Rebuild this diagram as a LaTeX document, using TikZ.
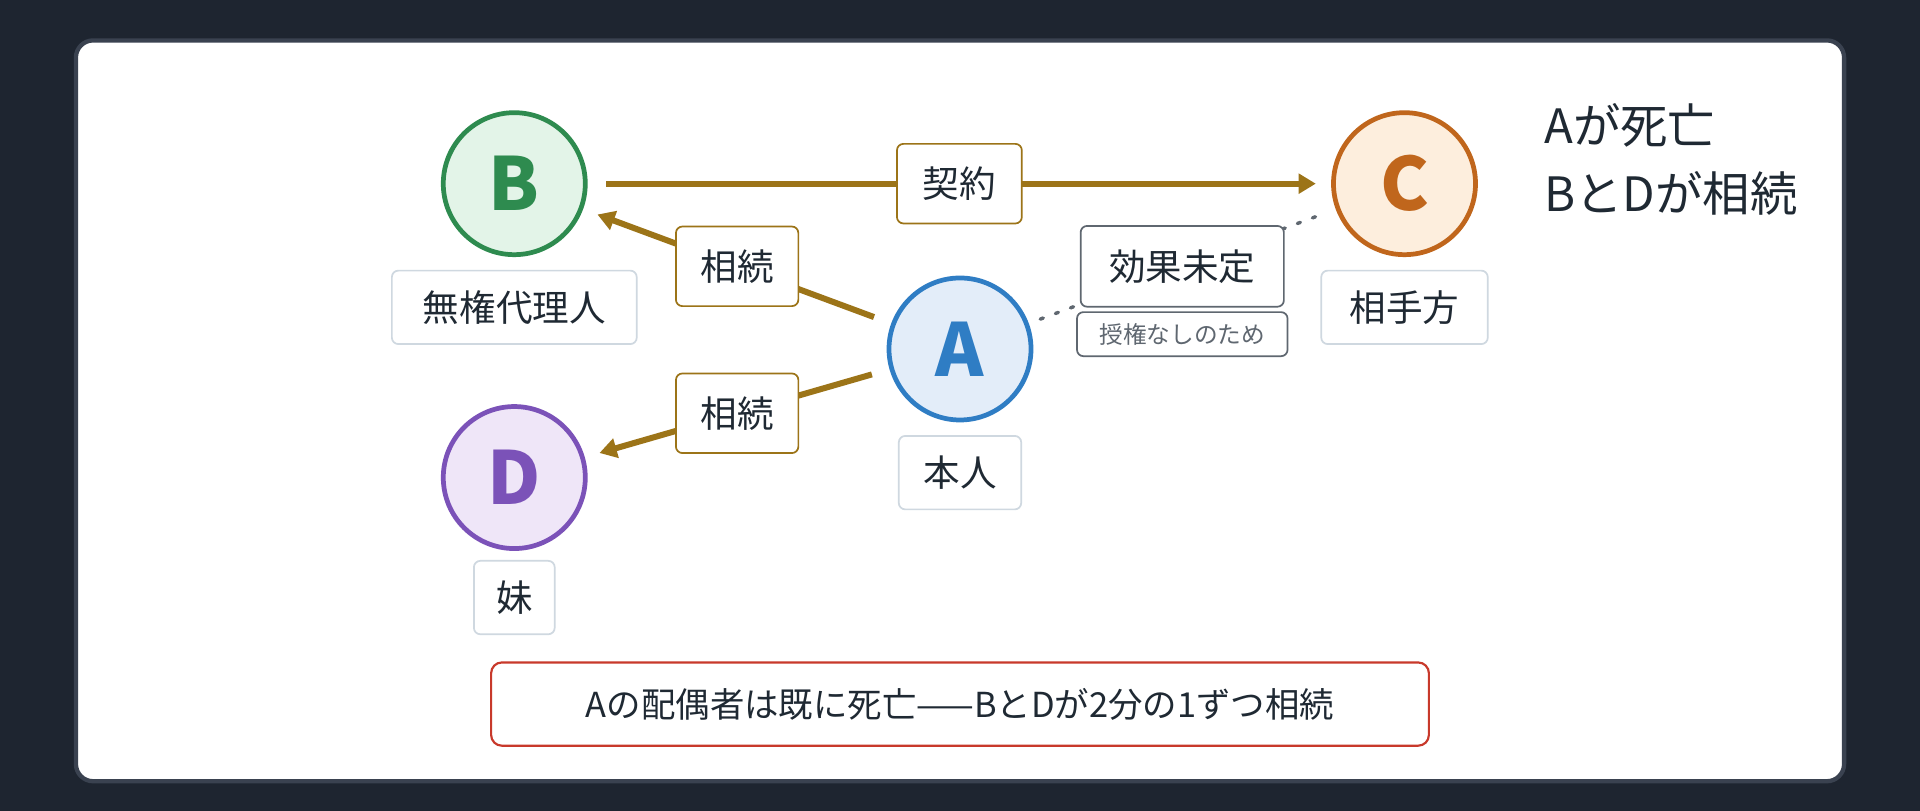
\documentclass[tikz,border=0pt]{standalone}
\usepackage{fontspec}
\setmainfont{Noto Sans CJK JP}
\usetikzlibrary{arrows.meta,positioning}
\definecolor{bgdark}{HTML}{1E2530}
\definecolor{cardline}{HTML}{3A4250}
\definecolor{inkc}{HTML}{1F2933}
\definecolor{brownc}{HTML}{9C7418}
\definecolor{greyline}{HTML}{CFD8E0}
\definecolor{greydark}{HTML}{5F6770}
\definecolor{redc}{HTML}{C8392B}
\definecolor{bline}{HTML}{2E8B4F}\definecolor{bfill}{HTML}{E3F4E8}
\definecolor{cline}{HTML}{C0661C}\definecolor{cfill}{HTML}{FDEEDD}
\definecolor{aline}{HTML}{2F7DC4}\definecolor{afill}{HTML}{E3EDF9}
\definecolor{dline}{HTML}{7B52B8}\definecolor{dfill}{HTML}{EFE6F8}
\tikzset{
  party/.style={circle, line width=2.2pt, minimum size=2.32cm, inner sep=0pt, font=\bfseries\fontsize{34}{34}\selectfont},
  tag/.style={draw=greyline, line width=0.8pt, rounded corners=3pt, fill=white, text=inkc, font=\fontsize{17}{20}\selectfont, inner sep=0pt, minimum height=1.2cm},
  rel/.style={draw=brownc, line width=0.8pt, rounded corners=3pt, fill=white, text=inkc, font=\fontsize{17}{20}\selectfont, minimum width=2.0cm, minimum height=1.3cm},
  flow/.style={brownc, line width=2.8pt, -{Triangle[length=8pt,width=9pt]}, shorten >=0.25cm, shorten <=0.3cm},
}
\begin{document}
\begin{tikzpicture}[x=0.02cm, y=-0.02cm]
  \fill[bgdark] (0,0) rectangle (1568,662);
  \filldraw[fill=white, draw=cardline, line width=2pt, rounded corners=8pt] (62,33) rectangle (1506,638);
  % parties
  \node[party, fill=bfill, draw=bline, text=bline] (B) at (420,150) {B};
  \node[party, fill=cfill, draw=cline, text=cline] (C) at (1147,150) {C};
  \node[party, fill=afill, draw=aline, text=aline] (A) at (784,285) {A};
  \node[party, fill=dfill, draw=dline, text=dline] (D) at (420,390) {D};
  % names
  \node[tag, minimum width=4.0cm] (Bname) at (420,251) {無権代理人};
  \node[tag, minimum width=2.72cm] (Cname) at (1147,251) {相手方};
  \node[tag, minimum width=2.0cm] (Aname) at (784,386) {本人};
  \node[tag, minimum width=1.32cm] (Dname) at (420,488) {妹};
  % relations
  \draw[flow] (B) -- node[rel, minimum width=2.04cm] (deal) {契約} (C);
  \draw[flow] (A) -- node[rel] (inhB) {相続} (B);
  \draw[flow] (A) -- node[rel] (inhD) {相続} (D);
  \draw[greydark, line width=1.6pt, dash pattern=on 1.5pt off 6pt, line cap=round, shorten <=0.2cm, shorten >=0.2cm]
    (A) -- node[draw=greydark, solid, line width=0.8pt, rounded corners=3pt, fill=white, text=inkc, font=\fontsize{17}{20}\selectfont, minimum width=3.32cm, minimum height=1.32cm] (open) {効果未定} (C);
  \node[draw=greydark, line width=0.8pt, rounded corners=3pt, fill=white, text=greydark, font=\fontsize{11}{13}\selectfont, minimum width=3.44cm, minimum height=0.72cm, below=0.06cm of open] (why) {授権なしのため};
  % notes
  \node[anchor=north west, align=left, text=inkc, font=\fontsize{22}{32}\selectfont] (death) at (1255,78) {Aが死亡\\BとDが相続};
  \node[draw=redc, line width=1pt, rounded corners=5pt, fill=white, text=inkc, font=\fontsize{16}{20}\selectfont, minimum width=15.32cm, minimum height=1.36cm] (note) at (784,575) {Aの配偶者は既に死亡——BとDが2分の1ずつ相続};
\end{tikzpicture}
\end{document}
